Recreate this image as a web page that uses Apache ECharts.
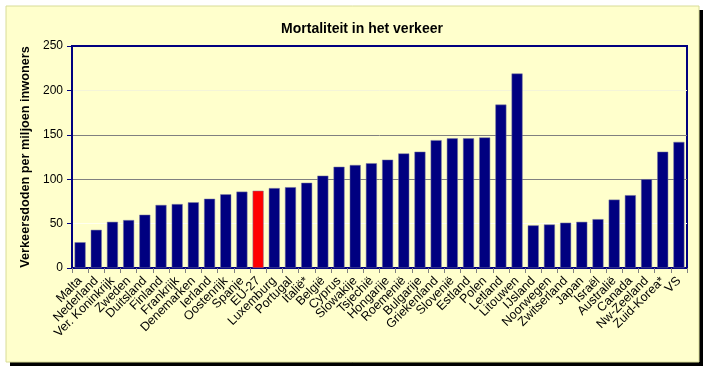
<!DOCTYPE html>
<html>
<head>
<meta charset="utf-8">
<script src="https://cdn.jsdelivr.net/npm/echarts@6/dist/echarts.min.js"></script>
<style>html,body{margin:0;padding:0;background:#fff}#c{width:715px;height:374px}</style>
</head>
<body>
<div id="c"></div>
<script>
const title = 'Mortaliteit in het verkeer';
const yAxisName = 'Verkeersdoden per miljoen inwoners';
const categories = ['Malta','Nederland','Ver. Koninkrijk','Zweden','Duitsland','Finland','Frankrijk','Denemarken','Ierland','Oostenrijk','Spanje','EU-27','Luxemburg','Portugal','Italië*','België','Cyprus','Slowakije','Tsjechië','Hongarije','Roemenië','Bulgarije','Griekenland','Slovenië','Estland','Polen','Letland','Litouwen','IJsland','Noorwegen','Zwitserland','Japan','Israël','Australië','Canada','Nw-Zeeland','Zuid-Korea*','VS'];
const values = [29,43,52,54,60,71,72,74,78,83,86,87,90,91,96,104,114,116,118,122,129,131,144,146,146,147,184,219,48,49,51,52,55,77,82,100,131,142];
const highlight = 'EU-27';
const yTicks = {min: 0, max: 250, interval: 50};

const FONT = 'Arial, "Liberation Sans", sans-serif';
const chart = echarts.init(document.getElementById('c'), null, {renderer: 'canvas'});
chart.setOption({
  backgroundColor: '#ffffff',
  animation: false,
  graphic: [
    {type: 'rect', z: -10, shape: {x: 10, y: 10, width: 693, height: 356}, style: {fill: '#000000'}},
    {type: 'rect', z: -9, shape: {x: 6, y: 6, width: 693, height: 356}, style: {fill: '#FFFFCC', stroke: '#D8DC98', lineWidth: 1}},
    {type: 'rect', z: -8, shape: {x: 72, y: 46, width: 615, height: 222}, style: {fill: 'none', stroke: '#000080', lineWidth: 2}}
  ],
  title: {
    text: title, left: 357, top: 17, textAlign: 'center',
    textStyle: {fontFamily: FONT, fontSize: 14, fontWeight: 'bold', color: '#000'}
  },
  grid: {left: 72, right: 28, top: 46, bottom: 106, containLabel: false},
  xAxis: {
    type: 'category', data: categories,
    axisLine: {show: true, lineStyle: {color: '#000080', width: 2}},
    axisTick: {show: true, length: 5, lineStyle: {color: '#808080'}},
    axisLabel: {rotate: 45, interval: 0, fontFamily: FONT, fontSize: 12.5, color: '#000', margin: 11}
  },
  yAxis: {
    type: 'value', min: yTicks.min, max: yTicks.max, interval: yTicks.interval,
    name: yAxisName, nameLocation: 'middle', nameGap: 38,
    nameTextStyle: {fontFamily: FONT, fontSize: 12.7, fontWeight: 'bold', color: '#000'},
    axisLine: {show: true, lineStyle: {color: '#000080', width: 2}},
    axisTick: {show: true, length: 5, lineStyle: {color: '#000080'}},
    axisLabel: {fontFamily: FONT, fontSize: 12, color: '#000', margin: 9},
    splitLine: {show: true, lineStyle: {color: ['rgba(0,0,0,0)', '#FFFFF0', '#808080', '#808080', '#F4F4D8', 'rgba(0,0,0,0)'], width: 1}}
  },
  series: [{
    type: 'bar',
    data: values.map((v, i) => ({value: v, itemStyle: {color: categories[i] === highlight ? '#FF0000' : '#000080'}})),
    barCategoryGap: '32%',
    itemStyle: {borderColor: '#7A7AA0', borderWidth: 0.5}
  }]
});
</script>
</body>
</html>
